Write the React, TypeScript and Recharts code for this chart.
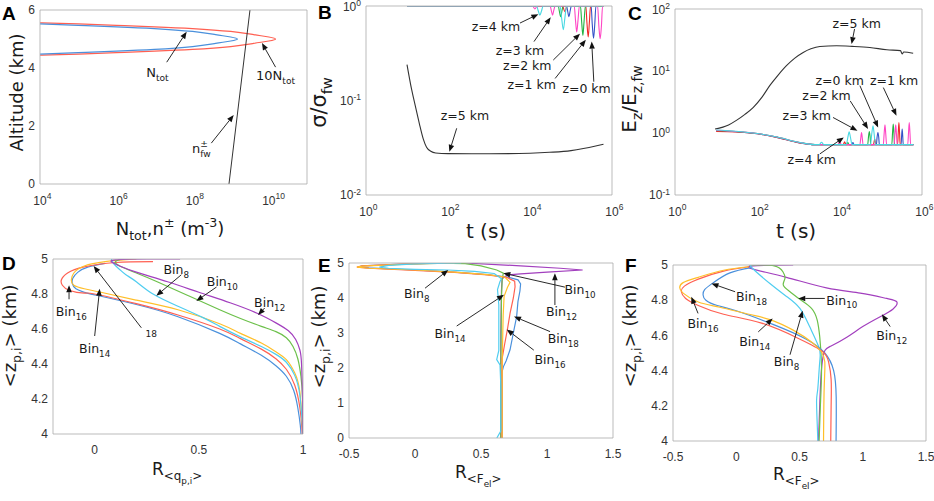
import React from 'react';
import { ComposedChart, Line, XAxis, YAxis, ReferenceLine, ReferenceDot } from 'recharts';

const GRAY = '#a9a9a9';
const TICKC = '#333333';
const TF = '"Liberation Sans", Arial, sans-serif';
const AF = '"DejaVu Sans", sans-serif';

// ---------- Panel A data (N [m^-3], altitude [km]) ----------
const aNtot = [[1e4,5.52],[1e5,5.47],[1e6,5.42],[1e7,5.36],[1e8,5.26],[4e8,5.15],[1e9,5.07],[1.5e9,5.0],[1e9,4.93],[4e8,4.85],[1e8,4.74],[1e7,4.64],[1e6,4.58],[1e5,4.53],[1e4,4.48]];
const a10Ntot = [[1e4,5.56],[1e5,5.52],[1e6,5.47],[1e7,5.42],[1e8,5.36],[1e9,5.26],[4e9,5.15],[1e10,5.07],[1.5e10,5.0],[1e10,4.93],[4e9,4.85],[1e9,4.74],[1e8,4.64],[1e7,4.58],[1e6,4.53],[1e5,4.48],[1e4,4.44]];
const aNfw = [[9e8,0],[3.2e9,6]];
const aXTicks = [1e4,1e6,1e8,1e10];
const aYTicks = [0,2,4,6];

// ---------- Panel B data (t [s], sigma/sigma_fw) ----------
const bZ5 = [[10,0.24],[13,0.13],[16,0.087],[20,0.057],[25,0.039],[30,0.032],[38,0.029],[50,0.0278],[100,0.0274],[1000,0.0273],[1e4,0.0277],[3e4,0.0283],[1e5,0.0295],[2e5,0.031],[4e5,0.033],[6.2e5,0.0345]];
const bZ4 = [[10,1],[1.45e4,1],[1.6e4,0.88],[1.74e4,0.8],[1.9e4,0.88],[2.1e4,1],[5.4e4,1],[5.9e4,0.75],[6.5e4,0.56],[7.1e4,0.75],[7.8e4,1],[6.2e5,1]];
const bZ3 = [[10,1],[1.15e4,1],[1.32e4,0.93],[1.5e4,1],[3.1e4,1],[3.3e4,0.9],[3.55e4,0.8],[3.8e4,0.9],[4.1e4,1],[1.2e5,1],[1.29e5,0.7],[1.38e5,0.53],[1.48e5,0.7],[1.6e5,1],[4.45e5,1],[4.8e5,0.6],[5.13e5,0.45],[5.5e5,0.6],[5.9e5,1],[6.2e5,1]];
const bZ2 = [[10,1],[4.9e4,1],[5.2e4,0.88],[5.6e4,0.77],[6e4,0.88],[6.4e4,1],[1.7e5,1],[1.82e5,0.68],[1.95e5,0.49],[2.08e5,0.68],[2.25e5,1],[6.2e5,1]];
const bZ1 = [[10,1],[6.2e4,1],[7.1e4,0.87],[8e4,1],[2.3e5,1],[2.45e5,0.66],[2.63e5,0.47],[2.8e5,0.66],[3e5,1],[6.2e5,1]];
const bZ0 = [[10,1],[7.8e4,1],[8.3e4,0.88],[8.9e4,0.77],[9.5e4,0.88],[1.02e5,1],[3.1e5,1],[3.3e5,0.64],[3.55e5,0.455],[3.8e5,0.64],[4.05e5,1],[6.2e5,1]];
const bXTicks = [1,1e2,1e4,1e6];
const bYTicks = [0.01,0.1,1];

// ---------- Panel C data (t [s], Ez/Ez,fw) ----------
const cZ5 = [[9.4,1.16],[20,1.35],[31,1.6],[50,2.0],[80,2.6],[130,3.8],[200,5.8],[320,8.6],[510,12.2],[800,16],[1300,19.9],[2000,22.8],[3300,24.9],[8400,25.5],[2e4,25],[5.4e4,24],[1.4e5,22],[3e5,21.3],[3.3e5,18.9],[3.6e5,20.2],[6.1e5,19.3]];
const cZ4 = [[10,1.12],[30,1.07],[100,0.98],[300,0.86],[1000,0.71],[2500,0.65],[3200,0.65],[3630,0.71],[4100,0.65],[1.45e4,0.65],[1.58e4,0.85],[1.7e4,1.05],[1.83e4,0.85],[2e4,0.65],[5.6e4,0.65],[6e4,0.95],[6.46e4,1.31],[6.9e4,0.95],[7.4e4,0.65],[6.2e5,0.65]];
const cZ3 = [[10,1.11],[30,1.06],[100,0.98],[300,0.86],[1000,0.71],[2500,0.65],[9000,0.65],[1e4,0.72],[1.1e4,0.65],[3.1e4,0.65],[3.25e4,0.82],[3.4e4,1.02],[3.55e4,0.82],[3.7e4,0.65],[1.15e5,0.65],[1.2e5,0.95],[1.26e5,1.36],[1.32e5,0.95],[1.38e5,0.65],[2.1e5,0.65],[2.2e5,0.95],[2.3e5,1.36],[2.4e5,0.95],[2.5e5,0.65],[4.5e5,0.65],[4.7e5,1.0],[4.9e5,1.48],[5.1e5,1.0],[5.3e5,0.65],[6.2e5,0.65]];
const cZ2 = [[10,1.1],[30,1.06],[100,0.98],[300,0.86],[1000,0.71],[2500,0.65],[1.45e4,0.65],[1.58e4,0.7],[1.7e4,0.65],[4.8e4,0.65],[5e4,0.85],[5.25e4,1.06],[5.5e4,0.85],[5.7e4,0.65],[1.85e5,0.65],[1.92e5,0.98],[2e5,1.4],[2.08e5,0.98],[2.15e5,0.65],[6.2e5,0.65]];
const cZ1 = [[10,1.06],[30,1.04],[100,0.97],[300,0.85],[1000,0.7],[2500,0.65],[1.22e4,0.65],[1.32e4,0.72],[1.42e4,0.65],[6.6e4,0.65],[7.1e4,0.8],[7.6e4,0.65],[2.55e5,0.65],[2.65e5,1.0],[2.75e5,1.48],[2.85e5,1.0],[2.95e5,0.65],[6.2e5,0.65]];
const cZ0 = [[10,1.08],[30,1.05],[100,0.97],[300,0.85],[1000,0.7],[2500,0.65],[1.95e4,0.65],[2.1e4,0.7],[2.25e4,0.65],[7.8e4,0.65],[8.1e4,0.85],[8.5e4,1.02],[8.9e4,0.85],[9.2e4,0.65],[3.1e5,0.65],[3.2e5,0.9],[3.3e5,1.16],[3.4e5,0.9],[3.5e5,0.65],[6.2e5,0.65]];
const cXTicks = [1,1e2,1e4,1e6];
const cYTicks = [0.1,1,10,100];

// ---------- Panel D data (R<q>, <z> km) ----------
const dBin8 = [[0.08,5.0],[0.09,4.975],[0.12,4.94],[0.15,4.91],[0.2,4.87],[0.28,4.8],[0.4,4.73],[0.52,4.665],[0.6,4.615],[0.7,4.555],[0.8,4.5],[0.87,4.455],[0.92,4.41],[0.96,4.335],[0.985,4.22],[1.0,4.0]];
const dBin10 = [[0.13,5.0],[0.1,4.985],[0.12,4.96],[0.2,4.92],[0.3,4.87],[0.45,4.79],[0.6,4.71],[0.7,4.66],[0.8,4.615],[0.87,4.585],[0.92,4.55],[0.952,4.5],[0.975,4.43],[0.99,4.33],[0.998,4.2],[1.0,4.0]];
const dBin12 = [[0.41,5.0],[0.25,5.0],[0.1,4.995],[0.085,4.98],[0.12,4.96],[0.2,4.925],[0.35,4.87],[0.5,4.81],[0.65,4.75],[0.78,4.69],[0.87,4.635],[0.93,4.59],[0.965,4.54],[0.985,4.48],[0.993,4.4],[0.998,4.2],[1.0,4.0]];
const dBin14 = [[0.2,5.0],[0.05,4.985],[-0.05,4.96],[-0.1,4.92],[-0.112,4.88],[-0.1,4.85],[-0.05,4.83],[0.03,4.81],[0.2,4.765],[0.4,4.71],[0.6,4.63],[0.7,4.575],[0.8,4.52],[0.87,4.47],[0.92,4.425],[0.96,4.35],[0.985,4.24],[1.0,4.0]];
const dBin16 = [[0.28,4.985],[0.1,4.98],[-0.05,4.955],[-0.13,4.92],[-0.16,4.88],[-0.155,4.85],[-0.12,4.82],[-0.05,4.805],[0.0,4.8],[0.2,4.745],[0.4,4.68],[0.6,4.6],[0.7,4.545],[0.8,4.485],[0.87,4.43],[0.92,4.37],[0.96,4.28],[0.985,4.15],[0.997,4.0]];
const dBin18 = [[0.05,4.975],[-0.03,4.955],[-0.08,4.925],[-0.105,4.89],[-0.107,4.86],[-0.09,4.83],[-0.05,4.81],[0.0,4.795],[0.2,4.74],[0.4,4.67],[0.6,4.575],[0.7,4.515],[0.8,4.45],[0.87,4.39],[0.92,4.33],[0.955,4.25],[0.975,4.15],[0.987,4.05],[0.99,4.0]];
const dXTicks = [0,0.5,1];
const dYTicks = [4,4.2,4.4,4.6,4.8,5];

// ---------- Panel E data (R<Fel>, <z> km) ----------
const eBin8 = [[0.35,5.0],[0.0,4.975],[-0.2,4.93],[-0.27,4.88],[-0.2,4.85],[0.0,4.82],[0.25,4.8],[0.45,4.76],[0.6,4.7],[0.655,4.55],[0.644,4.47],[0.625,4.24],[0.635,3.8],[0.635,2.5],[0.619,2.24],[0.644,2.09],[0.65,1.5],[0.65,0.2],[0.62,0.0]];
const eBin10 = [[0.1,5.0],[0.38,4.98],[0.5,4.92],[0.619,4.8],[0.669,4.71],[0.66,4.5],[0.655,4.0],[0.65,2.0],[0.65,0.0]];
const eBin12 = [[0.0,5.0],[0.37,5.0],[0.8,4.92],[1.1,4.85],[1.27,4.8],[1.0,4.74],[0.8,4.69],[0.7,4.66],[0.66,4.55],[0.655,4.2],[0.65,3.0],[0.65,2.0],[0.65,0.0]];
const eBin14 = [[0.3,5.0],[-0.1,4.96],[-0.4,4.91],[-0.44,4.88],[-0.35,4.85],[0.0,4.8],[0.3,4.74],[0.55,4.67],[0.68,4.6],[0.72,4.45],[0.7,4.3],[0.675,4.05],[0.668,3.5],[0.665,3.0],[0.66,2.0],[0.66,0.0]];
const eBin16 = [[0.25,5.0],[-0.1,4.97],[-0.4,4.92],[-0.44,4.88],[-0.35,4.85],[0.0,4.79],[0.3,4.73],[0.55,4.66],[0.7,4.58],[0.755,4.48],[0.758,4.32],[0.745,4.0],[0.72,3.56],[0.7,3.1],[0.68,2.7],[0.66,2.27],[0.66,0.0]];
const eBin18 = [[0.2,5.0],[-0.1,4.97],[-0.4,4.92],[-0.43,4.885],[-0.35,4.86],[0.0,4.8],[0.3,4.74],[0.55,4.67],[0.7,4.6],[0.78,4.52],[0.8,4.4],[0.795,4.2],[0.78,3.9],[0.77,3.47],[0.745,3.0],[0.72,2.52],[0.69,2.2],[0.67,2.04],[0.66,1.9],[0.66,0.0]];
const eXTicks = [-0.5,0,0.5,1,1.5];
const eYTicks = [0,1,2,3,4,5];

// ---------- Panel F data (R<Fel>, <z> km) ----------
const fBin8 = [[0.12,5.0],[0.13,4.98],[0.266,4.895],[0.4,4.82],[0.503,4.753],[0.58,4.65],[0.655,4.53],[0.66,4.45],[0.645,4.3],[0.635,4.23],[0.64,4.1],[0.645,4.0]];
const fBin10 = [[0.1,5.0],[0.3,4.995],[0.37,4.96],[0.385,4.924],[0.372,4.886],[0.425,4.848],[0.503,4.805],[0.595,4.754],[0.64,4.687],[0.66,4.592],[0.674,4.42],[0.665,4.2],[0.655,4.0]];
const fBin12 = [[0.45,5.0],[0.134,4.995],[0.14,4.975],[0.396,4.93],[0.713,4.87],[0.98,4.84],[1.19,4.81],[1.27,4.79],[1.24,4.75],[1.138,4.706],[1.0,4.65],[0.874,4.59],[0.75,4.54],[0.702,4.516],[0.68,4.45],[0.665,4.3],[0.655,4.1],[0.649,4.0]];
const fBin14 = [[0.1,4.99],[-0.1,4.97],[-0.3,4.93],[-0.42,4.9],[-0.447,4.873],[-0.42,4.84],[-0.3,4.79],[-0.13,4.76],[0.1,4.72],[0.266,4.69],[0.45,4.63],[0.6,4.56],[0.67,4.51],[0.7,4.45],[0.695,4.3],[0.69,4.0]];
const fBin16 = [[0.1,4.99],[-0.1,4.965],[-0.3,4.92],[-0.41,4.88],[-0.434,4.848],[-0.4,4.81],[-0.3,4.77],[-0.1,4.72],[0.2,4.67],[0.5,4.58],[0.68,4.51],[0.73,4.45],[0.75,4.35],[0.75,4.2],[0.747,4.0]];
const fBin18 = [[0.12,4.985],[-0.05,4.955],[-0.18,4.9],[-0.25,4.86],[-0.262,4.83],[-0.24,4.8],[-0.15,4.77],[0.0,4.74],[0.3,4.66],[0.55,4.58],[0.7,4.5],[0.77,4.4],[0.79,4.25],[0.789,4.0]];
const fXTicks = [-0.5,0,0.5,1,1.5];
const fYTicks = [4,4.2,4.4,4.6,4.8,5];

// ---------- colours ----------
const C = { blue: '#4a90dc', red: '#ff6052', yellow: '#ffbf2a', cyan: '#4fcdf0', green: '#6cc04a', purple: '#a23fbe',
  zBlue: '#3452c8', zRed: '#f02828', zGreen: '#22b444', zPink: '#ff45c4', zCyan: '#48d8e2', black: '#333333' };

type Seg = [string, number, number?];
type Note = { segs: Seg[]; at: number[]; from: number[]; to: number[]; fs?: number };
const bin = (n: string): Seg[] => [['Bin', 0], [n, 1]];
const zkm = (n: string): Seg[] => [[`z=${n} km`, 0]];

const notesA: Note[] = [
  { segs: [['N', 0], ['tot', 1]], at: [1.2e7, 3.86], from: [2.1e7, 4.2], to: [7e7, 5.25], fs: 13 },
  { segs: [['10N', 0], ['tot', 1]], at: [1.5e10, 3.76], from: [1.5e10, 4.03], to: [6.6e9, 4.86], fs: 13 },
  { segs: [['n', 0], ['±', -1], ['fw', 1, -7.6]], at: [1.7e8, 1.24], from: [3.1e8, 1.41], to: [1.2e9, 2.38], fs: 13 },
];
const notesB: Note[] = [
  { segs: zkm('4'), at: [1480, 0.6], from: [5700, 0.66], to: [1.6e4, 0.82] },
  { segs: zkm('3'), at: [5700, 0.34], from: [1.25e4, 0.42], to: [3.2e4, 0.76] },
  { segs: zkm('2'), at: [8600, 0.237], from: [3.7e4, 0.268], to: [1.66e5, 0.51] },
  { segs: zkm('1'), at: [1.1e4, 0.146], from: [4.1e4, 0.171], to: [2.3e5, 0.44] },
  { segs: zkm('0'), at: [2.4e5, 0.134], from: [3.6e5, 0.158], to: [3.2e5, 0.42] },
  { segs: zkm('5'), at: [260, 0.07], from: [163, 0.0508], to: [108, 0.0287] },
];
const notesC: Note[] = [
  { segs: zkm('5'), at: [2.6e4, 58], from: [2.3e4, 47.5], to: [1.95e4, 27.2] },
  { segs: zkm('0'), at: [1e4, 7], from: [3.1e4, 5.8], to: [8.6e4, 1.23] },
  { segs: zkm('1'), at: [2.1e5, 7], from: [1.15e5, 5.4], to: [2.4e5, 1.9] },
  { segs: zkm('2'), at: [4800, 4.0], from: [1.8e4, 3.3], to: [4.9e4, 1.16] },
  { segs: zkm('3'), at: [1580, 1.9], from: [6900, 1.78], to: [2.7e4, 1.09] },
  { segs: zkm('4'), at: [2100, 0.38], from: [3300, 0.46], to: [1.26e4, 0.85] },
];
const notesD: Note[] = [
  { segs: bin('8'), at: [0.392, 4.939], from: [0.416, 4.91], to: [0.296, 4.79] },
  { segs: bin('10'), at: [0.613, 4.872], from: [0.585, 4.84], to: [0.488, 4.76] },
  { segs: bin('12'), at: [0.84, 4.75], from: [0.816, 4.72], to: [0.784, 4.68] },
  { segs: bin('16'), at: [-0.112, 4.7], from: [-0.123, 4.77], to: [-0.123, 4.85] },
  { segs: bin('14'), at: [0.0, 4.49], from: [0.0, 4.56], to: [0.024, 4.83] },
  { segs: [['18', 0]], at: [0.272, 4.57], from: [0.224, 4.607], to: [-0.005, 4.96], fs: 9 },
];
const notesE: Note[] = [
  { segs: bin('8'), at: [0.013, 4.13], from: [0.076, 4.28], to: [0.252, 4.8] },
  { segs: bin('10'), at: [1.25, 4.23], from: [1.136, 4.31], to: [0.669, 4.71] },
  { segs: bin('12'), at: [1.11, 3.61], from: [1.06, 3.8], to: [1.06, 4.71] },
  { segs: bin('14'), at: [0.265, 2.99], from: [0.316, 3.2], to: [0.674, 4.09] },
  { segs: bin('18'), at: [1.124, 2.85], from: [1.023, 3.04], to: [0.75, 3.47] },
  { segs: bin('16'), at: [1.023, 2.23], from: [0.9, 2.51], to: [0.695, 3.1] },
];
const notesF: Note[] = [
  { segs: bin('18'), at: [0.121, 4.82], from: [-0.009, 4.848], to: [-0.196, 4.895] },
  { segs: bin('10'), at: [0.834, 4.8], from: [0.7, 4.81], to: [0.49, 4.81] },
  { segs: bin('16'), at: [-0.262, 4.668], from: [-0.302, 4.725], to: [-0.355, 4.82] },
  { segs: bin('14'), at: [0.147, 4.563], from: [0.174, 4.62], to: [0.288, 4.696] },
  { segs: bin('8'), at: [0.398, 4.45], from: [0.425, 4.49], to: [0.525, 4.74] },
  { segs: bin('12'), at: [1.23, 4.6], from: [1.217, 4.65], to: [1.151, 4.72] },
];

// ---------- helpers ----------
const pts = (a: number[][]) => a.map(([x, y]) => ({ x, y }));
const logMinor = (lo: number, hi: number) => {
  const out: number[] = [];
  for (let e = lo; e < hi; e++) for (let m = 1; m <= 9; m++) out.push(m * Math.pow(10, e));
  out.push(Math.pow(10, hi));
  return out;
};
const linMinor = (lo: number, hi: number, step: number) => {
  const out: number[] = [];
  const n = Math.round((hi - lo) / step);
  for (let i = 0; i <= n; i++) out.push(+(lo + i * step).toFixed(6));
  return out;
};

function Rich({ x, y, segs, fs, anchor = 'middle', family = AF, fill = '#1a1a1a', rotate = false, weight }: any) {
  let cur = 0;
  const kids = (segs as Seg[]).map(([t, lv, dx], i) => {
    const off = lv === 1 ? fs * 0.3 : lv === -1 ? -fs * 0.42 : lv === 2 ? fs * 0.52 : 0;
    const size = lv === 0 ? fs : lv === 2 ? fs * 0.52 : fs * 0.7;
    const dy = off - cur;
    cur = off;
    return <tspan key={i} dy={dy} dx={dx || 0} fontSize={size}>{t}</tspan>;
  });
  return (
    <text x={x} y={y} fontSize={fs} fontFamily={family} fontWeight={weight} textAnchor={anchor} fill={fill}
      transform={rotate ? `rotate(-90 ${x} ${y})` : undefined}>{kids}</text>
  );
}

const logTickX = (p: any) => {
  const e = Math.round(Math.log10(p.payload.value));
  return <text x={p.x - 6.7} y={p.y + 20.5} textAnchor="start" fontSize={12} fontFamily={TF} fill={TICKC}>10<tspan dy={-5.5} fontSize={8.5}>{String(e)}</tspan></text>;
};
const logTickY = (p: any) => {
  const e = Math.round(Math.log10(p.payload.value));
  return <text x={p.x - 5} y={Math.max(p.y + 4.2, 14.5)} textAnchor="end" fontSize={12} fontFamily={TF} fill={TICKC}>10<tspan dy={-4.5} fontSize={8.5}>{String(e)}</tspan></text>;
};
const linTickX = (p: any) => <text x={p.x} y={p.y + 20} textAnchor="middle" fontSize={12} fontFamily={TF} fill={TICKC}>{String(p.payload.value)}</text>;
const linTickY = (p: any) => <text x={p.x - 5} y={p.y + 4.2} textAnchor="end" fontSize={12} fontFamily={TF} fill={TICKC}>{String(p.payload.value)}</text>;

const arrowShape = (p: any) => {
  const { x1, y1, x2, y2 } = p;
  if ([x1, y1, x2, y2].some((v) => typeof v !== 'number' || isNaN(v))) return <g />;
  const a = Math.atan2(y2 - y1, x2 - x1);
  const L = 7, W = 2.8;
  const bx = x2 - L * Math.cos(a), by = y2 - L * Math.sin(a);
  const nx = -Math.sin(a) * W, ny = Math.cos(a) * W;
  return (
    <g>
      <line x1={x1} y1={y1} x2={bx} y2={by} stroke="#111" strokeWidth={0.9} />
      <polygon points={`${x2},${y2} ${bx + nx},${by + ny} ${bx - nx},${by - ny}`} fill="#111" />
    </g>
  );
};

const renderNotes = (key: string, notes: Note[]) =>
  notes.flatMap((n, i) => {
    const fs = n.fs || 12.5;
    return [
      <ReferenceLine key={`${key}a${i}`} segment={[{ x: n.from[0], y: n.from[1] }, { x: n.to[0], y: n.to[1] }]} ifOverflow="visible" shape={arrowShape} />,
      <ReferenceDot key={`${key}t${i}`} x={n.at[0]} y={n.at[1]} r={0} ifOverflow="visible"
        shape={(p: any) => <Rich x={p.cx} y={p.cy + fs * 0.36} segs={n.segs} fs={fs} />} />,
    ];
  });

const series = (key: string, data: number[][], color: string, type: any = 'natural', w = 1.2) => (
  <Line key={key} data={pts(data)} dataKey="y" type={type} stroke={color} strokeWidth={w} dot={false} activeDot={false}
    isAnimationActive={false} legendType="none" />
);

const YW = 45, MR = 25, MT = 10, XH = 40;

function Panel({ box, xd, yd, xlog, ylog, xt, yt, xm, ym, children }: any) {
  const [x0, y0, x1, y1] = box;
  const pw = x1 - x0, ph = y1 - y0;
  const xs = xlog ? 'log' : 'linear';
  const ys = ylog ? 'log' : 'linear';
  const tl = { stroke: GRAY, strokeWidth: 0.8 };
  return (
    <div style={{ position: 'absolute', left: x0 - YW, top: y0 - MT }}>
      <ComposedChart width={YW + pw + MR} height={MT + ph + XH} margin={{ top: MT, right: MR, bottom: 0, left: 0 }}>
        <XAxis xAxisId={0} dataKey="x" type="number" scale={xs} domain={xd} allowDataOverflow ticks={xt} interval={0}
          tickLine={false} tickSize={0} tickMargin={0} height={XH} axisLine={tl} tick={xlog ? logTickX : linTickX} />
        <XAxis xAxisId="bm" dataKey="x" type="number" scale={xs} domain={xd} allowDataOverflow ticks={xm} interval={0}
          mirror tick={false} tickSize={4} axisLine={false} tickLine={tl} />
        <XAxis xAxisId="tp" dataKey="x" orientation="top" type="number" scale={xs} domain={xd} allowDataOverflow ticks={xm} interval={0}
          mirror tick={false} tickSize={4} axisLine={tl} tickLine={tl} />
        <YAxis yAxisId={0} type="number" scale={ys} domain={yd} allowDataOverflow ticks={yt} interval={0}
          tickLine={false} tickSize={0} tickMargin={0} width={YW} axisLine={tl} tick={ylog ? logTickY : linTickY} />
        <YAxis yAxisId="lm" type="number" scale={ys} domain={yd} allowDataOverflow ticks={ym} interval={0}
          mirror tick={false} tickSize={4} axisLine={false} tickLine={tl} />
        <YAxis yAxisId="rt" orientation="right" type="number" scale={ys} domain={yd} allowDataOverflow ticks={ym} interval={0}
          mirror tick={false} tickSize={4} axisLine={tl} tickLine={tl} />
        {children}
      </ComposedChart>
    </div>
  );
}

const T = 18;

export default function App() {
  return (
    <div style={{ position: 'absolute', left: 0, top: 0, width: 934, height: 501, background: '#fff', overflow: 'hidden' }}>
      <Panel box={[40, 10, 307, 184]} xd={[1e4, 1e11]} yd={[0, 6]} xlog xt={aXTicks} yt={aYTicks}
        xm={logMinor(4, 11)} ym={linMinor(0, 6, 1)}>
        {series('a10', a10Ntot, C.red)}
        {series('a1', aNtot, C.blue)}
        {series('afw', aNfw, C.black, 'linear', 1)}
        {renderNotes('A', notesA)}
      </Panel>
      <Panel box={[366, 6, 612, 195]} xd={[1, 1e6]} yd={[0.01, 1]} xlog ylog xt={bXTicks} yt={bYTicks}
        xm={logMinor(0, 6)} ym={logMinor(-2, 0)}>
        {series('b5', bZ5, C.black, 'monotone', 1.1)}
        {series('b0', bZ0, C.zBlue, 'monotone', 1.1)}
        {series('b1', bZ1, C.zRed, 'monotone', 1.1)}
        {series('b2', bZ2, C.zGreen, 'monotone', 1.1)}
        {series('b3', bZ3, C.zPink, 'monotone', 1.1)}
        {series('b4', bZ4, C.zCyan, 'monotone', 1.1)}
        {renderNotes('B', notesB)}
      </Panel>
      <Panel box={[675, 9, 922, 195]} xd={[1, 1e6]} yd={[0.1, 100]} xlog ylog xt={cXTicks} yt={cYTicks}
        xm={logMinor(0, 6)} ym={logMinor(-1, 2)}>
        {series('c5', cZ5, C.black, 'monotone', 1.1)}
        {series('c0', cZ0, C.zBlue, 'monotone', 1.1)}
        {series('c1', cZ1, C.zRed, 'monotone', 1.1)}
        {series('c2', cZ2, C.zGreen, 'monotone', 1.1)}
        {series('c3', cZ3, C.zPink, 'monotone', 1.1)}
        {series('c4', cZ4, C.zCyan, 'monotone', 1.1)}
        {renderNotes('C', notesC)}
      </Panel>
      <Panel box={[53, 259, 303, 434]} xd={[-0.2, 1]} yd={[4, 5]} xt={dXTicks} yt={dYTicks}
        xm={linMinor(-0.2, 1, 0.1)} ym={linMinor(4, 5, 0.1)}>
        {series('d18', dBin18, C.blue)}
        {series('d16', dBin16, C.red)}
        {series('d14', dBin14, C.yellow)}
        {series('d8', dBin8, C.cyan)}
        {series('d10', dBin10, C.green)}
        {series('d12', dBin12, C.purple)}
        {renderNotes('D', notesD)}
      </Panel>
      <Panel box={[349, 263, 613, 438]} xd={[-0.5, 1.5]} yd={[0, 5]} xt={eXTicks} yt={eYTicks}
        xm={linMinor(-0.5, 1.5, 0.1)} ym={linMinor(0, 5, 0.5)}>
        {series('e12', eBin12, C.purple, 'linear')}
        {series('e10', eBin10, C.green, 'linear')}
        {series('e18', eBin18, C.blue, 'linear')}
        {series('e16', eBin16, C.red, 'linear')}
        {series('e14', eBin14, C.yellow, 'linear')}
        {series('e8', eBin8, C.cyan, 'linear')}
        {renderNotes('E', notesE)}
      </Panel>
      <Panel box={[673, 265, 926, 441]} xd={[-0.5, 1.5]} yd={[4, 5]} xt={fXTicks} yt={fYTicks}
        xm={linMinor(-0.5, 1.5, 0.1)} ym={linMinor(4, 5, 0.1)}>
        {series('f12', fBin12, C.purple)}
        {series('f10', fBin10, C.green)}
        {series('f8', fBin8, C.cyan)}
        {series('f18', fBin18, C.blue)}
        {series('f16', fBin16, C.red)}
        {series('f14', fBin14, C.yellow)}
        {renderNotes('F', notesF)}
      </Panel>
      <svg width={934} height={501} style={{ position: 'absolute', left: 0, top: 0, pointerEvents: 'none' }}>
        <text x={2} y={20} fontSize={19} fontWeight="bold" fontFamily={TF}>A</text>
        <text x={318} y={18.5} fontSize={19} fontWeight="bold" fontFamily={TF}>B</text>
        <text x={628} y={20} fontSize={19} fontWeight="bold" fontFamily={TF}>C</text>
        <text x={2} y={270} fontSize={19} fontWeight="bold" fontFamily={TF}>D</text>
        <text x={318} y={271.5} fontSize={19} fontWeight="bold" fontFamily={TF}>E</text>
        <text x={625} y={271.5} fontSize={19} fontWeight="bold" fontFamily={TF}>F</text>
        <Rich x={23} y={92.5} fs={T} rotate segs={[['Altitude (km)', 0]]} />
        <Rich x={170} y={235} fs={T} segs={[['N', 0], ['tot', 1], [',n', 0], ['±', -1], [' (m', 0], ['-3', -1], [')', 0]]} />
        <Rich x={326} y={102.5} fs={21} rotate segs={[['σ/σ', 0], ['fw', 1]]} />
        <Rich x={486} y={238} fs={20} segs={[['t (s)', 0]]} />
        <Rich x={636} y={99} fs={20} rotate segs={[['E', 0], ['z', 1], ['/E', 0], ['z,fw', 1]]} />
        <Rich x={796} y={238} fs={20} segs={[['t (s)', 0]]} />
        <Rich x={16} y={336} fs={18} rotate segs={[['<z', 0], ['p,i', 1], ['> (km)', 0]]} />
        <Rich x={152} y={475} fs={17} anchor="start" segs={[['R', 0], ['<q', 1], ['p,i', 2], ['>', 1]]} />
        <Rich x={325} y={337} fs={18} rotate segs={[['<z', 0], ['p,i', 1], ['> (km)', 0]]} />
        <Rich x={455} y={478} fs={17} anchor="start" segs={[['R', 0], ['<F', 1], ['el', 2], ['>', 1]]} />
        <Rich x={636} y={336} fs={18} rotate segs={[['<z', 0], ['p,i', 1], ['> (km)', 0]]} />
        <Rich x={773} y={480} fs={17} anchor="start" segs={[['R', 0], ['<F', 1], ['el', 2], ['>', 1]]} />
      </svg>
    </div>
  );
}
